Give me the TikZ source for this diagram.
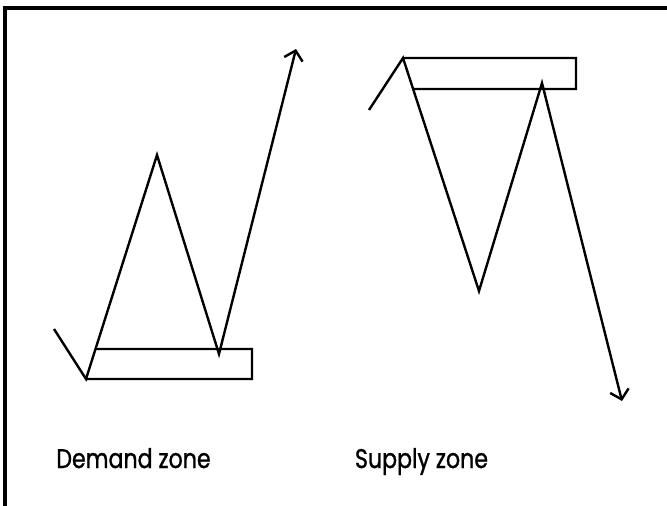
\documentclass[tikz,border=0pt]{standalone}
\usepackage{fontspec}
\setmainfont{Poppins}
\newfontfamily\lblfont{Poppins}[FakeBold=1.2]
\usetikzlibrary{arrows.meta,calc}
\tikzset{
  zig/.style={line width=2.4pt, line join=miter, line cap=butt, black},
  zonebox/.style={line width=2.2pt, line join=miter, black},
  frameline/.style={line width=4pt, black},
  tip/.style={-{Straight Barb[length=9pt,width=19pt,line width=2.4pt]}},
  lbl/.style={anchor=base, inner sep=0pt, xscale=0.82, font=\lblfont\fontsize{27}{32}\selectfont}
}
\begin{document}
\begin{tikzpicture}[x=1pt,y=-1pt]
\useasboundingbox (0,0) rectangle (667,506);
\fill[white] (0,0) rectangle (667,506);
% frame (top and left only)
\coordinate (fbl) at (5,506);
\coordinate (ftl) at (5,8);
\coordinate (ftr) at (667,8);
\draw[frameline] (fbl) -- (ftl) -- (ftr);
% demand zone
\coordinate (ds) at (54,329);
\coordinate (dlow) at (86,379);
\coordinate (dpeak) at (157,155);
\coordinate (dv) at (219,354);
\coordinate (dtip) at (296,49);
\coordinate (dbr) at (252,379);
\coordinate (dtr) at (252,349);
\coordinate (dtl) at ($(dlow)!0.1339!(dpeak)$);
\draw[zonebox] (dlow) -- (dbr) -- (dtr) -- (dtl);
\draw[zig,tip] (ds) -- (dlow) -- (dpeak) -- (dv) -- (dtip);
% supply zone
\coordinate (ss) at (369,110);
\coordinate (shigh) at (403,58);
\coordinate (sv) at (479,291);
\coordinate (sp) at (542,83);
\coordinate (stip) at (622,401);
\coordinate (str) at (576,58);
\coordinate (sbr) at (576,89);
\coordinate (sbl) at ($(shigh)!0.1333!(sv)$);
\draw[zonebox] (shigh) -- (str) -- (sbr) -- (sbl);
\draw[zig,tip] (ss) -- (shigh) -- (sv) -- (sp) -- (stip);
% labels
\node[lbl] (dlabel) at (133.5,468) {Demand zone};
\node[lbl] (slabel) at (421.5,468) {Supply zone};
\end{tikzpicture}
\end{document}
